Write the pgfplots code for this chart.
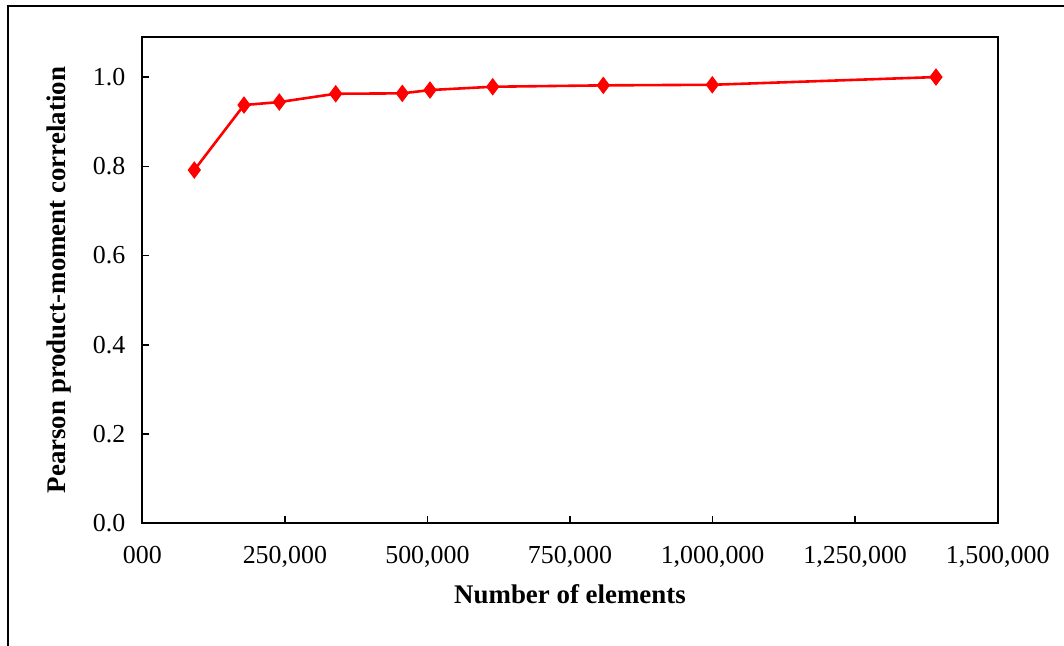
\documentclass[border=0pt]{standalone}
\usepackage{pgfplots}
\pgfplotsset{compat=1.18}
\usepackage{fontspec}
\setmainfont{Liberation Serif}
\begin{document}
\begin{tikzpicture}
\path[use as bounding box] (0,0) rectangle (532bp,-323bp);
\draw[line width=1bp] (4.2bp,-324bp) -- (4.2bp,-3bp) -- (533bp,-3bp);
\begin{axis}[
  at={(71.15bp,-261.65bp)}, anchor=south west,
  width=427.7bp, height=243.2bp, scale only axis,
  xmin=0, xmax=1500000, ymin=0, ymax=1.09,
  axis line style={line width=0.9bp},
  xtick={0,250000,500000,750000,1000000,1250000,1500000},
  xticklabels={000,{250,000},{500,000},{750,000},{1,000,000},{1,250,000},{1,500,000}},
  ytick={0,0.2,0.4,0.6,0.8,1.0},
  yticklabels={0.0,0.2,0.4,0.6,0.8,1.0},
  tick align=inside, xtick pos=lower, ytick pos=left,
  major tick length=3.5bp,
  tick style={line width=0.8bp, black},
  scaled x ticks=false,
  ticklabel style={font=\fontsize{13}{15}\selectfont},
  xticklabel style={yshift=-8bp},
  yticklabel style={xshift=-5bp},
  xlabel={Number of elements},
  ylabel={Pearson product-moment correlation},
  label style={font=\bfseries\fontsize{13.5}{15}\selectfont},
  xlabel style={yshift=-1.5bp},
  ylabel style={yshift=4bp},
]
\addplot[color=red, line width=1.3bp, mark=diamond*, mark size=4bp, mark options={fill=red, draw=red, line width=0.5bp}]
coordinates {
(91185,0.7916)
(178337,0.9373)
(240239,0.9440)
(339140,0.9626)
(455927,0.9635)
(504501,0.9709)
(614449,0.9783)
(808394,0.9814)
(999532,0.9827)
(1391792,1.0000)
};
\end{axis}
\end{tikzpicture}
\end{document}
